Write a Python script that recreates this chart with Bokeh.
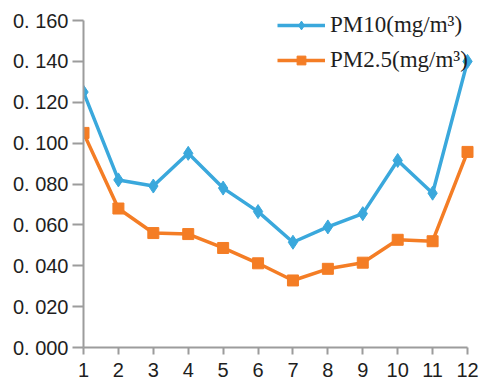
from bokeh.plotting import figure
from bokeh.models import FixedTicker, Range1d, Legend, LegendItem
from bokeh.embed import file_html
from bokeh.resources import INLINE

months = [1, 2, 3, 4, 5, 6, 7, 8, 9, 10, 11, 12]
pm10 = [0.125, 0.082, 0.079, 0.095, 0.078, 0.0665, 0.0515, 0.059, 0.0655, 0.0915, 0.0755, 0.140]
pm25 = [0.105, 0.068, 0.056, 0.0555, 0.0487, 0.0412, 0.0328, 0.0385, 0.0415, 0.0527, 0.052, 0.0957]
y_ticks = [0.0, 0.02, 0.04, 0.06, 0.08, 0.10, 0.12, 0.14, 0.16]
y_labels = ["0. 000", "0. 020", "0. 040", "0. 060", "0. 080", "0. 100", "0. 120", "0. 140", "0. 160"]

blue = "#3aa8dc"
orange = "#f47d25"
axis_col = "#9c9c9c"

p = figure(width=488, height=384, output_backend="svg", toolbar_location=None,
           x_range=Range1d(1, 12.458), y_range=Range1d(0, 0.16734),
           min_border_left=83, min_border_right=5, min_border_top=5, min_border_bottom=37)
p.outline_line_color = None
p.xgrid.grid_line_color = None
p.ygrid.grid_line_color = None

l1 = p.line(months, pm10, line_color=blue, line_width=3.5)
m1 = p.scatter(months, pm10, marker="diamond", size=14, fill_color=blue, line_color=blue)
l2 = p.line(months, pm25, line_color=orange, line_width=3.5)
m2 = p.scatter(months, pm25, marker="square", size=11, fill_color=orange, line_color=orange)

for ax in (p.xaxis[0], p.yaxis[0]):
    ax.axis_line_color = axis_col
    ax.axis_line_width = 2
    ax.major_tick_line_color = axis_col
    ax.major_tick_line_width = 2
    ax.major_tick_in = 0
    ax.minor_tick_line_color = None
    ax.major_label_text_font = "Liberation Sans"
    ax.major_label_text_font_size = "20px"
    ax.major_label_text_color = "#1e1e1e"

p.xaxis.ticker = FixedTicker(ticks=months)
p.xaxis.bounds = (1, 12)
p.xaxis.major_tick_out = 7
p.xaxis.major_label_standoff = 8
p.yaxis.ticker = FixedTicker(ticks=y_ticks)
p.yaxis.bounds = (0, 0.16)
p.yaxis.major_label_overrides = {t: s for t, s in zip(y_ticks, y_labels)}
p.yaxis.major_tick_out = 11
p.yaxis.major_label_standoff = 4

legend = Legend(items=[
    LegendItem(label="PM10(mg/m³)", renderers=[l1, m1]),
    LegendItem(label="PM2.5(mg/m³)", renderers=[l2, m2]),
], location=(194, 274))
legend.padding = 0
legend.margin = 0
legend.spacing = 9
legend.glyph_width = 48
legend.glyph_height = 22
legend.label_height = 22
legend.label_standoff = 5
legend.label_text_font = "Liberation Serif"
legend.label_text_font_size = "23px"
legend.label_text_color = "#1e1e1e"
legend.background_fill_alpha = 0
legend.border_line_alpha = 0
p.add_layout(legend, "center")

open("out.html", "w").write(file_html(p, INLINE))
